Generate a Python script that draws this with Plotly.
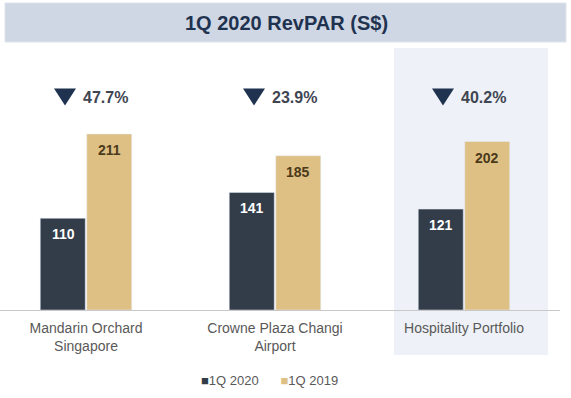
import plotly.graph_objects as go

categories = ["Mandarin Orchard<br>Singapore", "Crowne Plaza Changi<br>Airport", "Hospitality Portfolio"]
revpar_2020 = [110, 141, 121]
revpar_2019 = [211, 185, 202]
changes = ["47.7%", "23.9%", "40.2%"]
series_names = ["1Q 2020", "1Q 2019"]
title_text = "1Q 2020 RevPAR (S$)"

C_DARK = "#333d4a"
C_GOLD = "#dec084"
C_NAVY = "#1f3350"
FONT = "Liberation Sans, Arial, sans-serif"

W, H = 571, 398
ML, MR, MT, MB = 0, 11, 48, 88
PW = W - ML - MR
PH = H - MT - MB


def px_x(px):
    return (px - ML) / PW


def px_y(py):
    return (H - MB - py) / PH


xs = list(range(len(categories)))

fig = go.Figure()
fig.add_trace(go.Bar(x=xs, y=revpar_2020, name=series_names[0], marker_color=C_DARK,
                     showlegend=False, hoverinfo="skip"))
fig.add_trace(go.Bar(x=xs, y=revpar_2019, name=series_names[1], marker_color=C_GOLD,
                     showlegend=False, hoverinfo="skip"))

shapes = []
# title banner
shapes.append(dict(type="rect", xref="paper", yref="paper",
                   x0=px_x(5), x1=px_x(566), y0=px_y(42), y1=px_y(3),
                   fillcolor="#cfd7e4", line=dict(color="#dfe4ec", width=1), layer="below"))
# highlight box for portfolio
shapes.append(dict(type="rect", xref="paper", yref="paper",
                   x0=px_x(394), x1=px_x(548), y0=px_y(355), y1=px_y(48),
                   fillcolor="#eef1f7", line=dict(width=0), layer="below"))

annotations = []
annotations.append(dict(text="<b>" + title_text + "</b>", xref="paper", yref="paper",
                        x=px_x(286), y=px_y(23), xanchor="center", yanchor="middle",
                        showarrow=False, font=dict(family=FONT, size=20, color=C_NAVY)))

row_y = px_y(97)
for i, ch in enumerate(changes):
    shapes.append(dict(type="path", xref="x", yref="paper", xsizemode="pixel", ysizemode="pixel",
                       xanchor=xs[i], yanchor=row_y,
                       path="M -32,8.5 L -10,8.5 L -21,-8.5 Z",
                       fillcolor=C_NAVY, line=dict(width=0)))
    annotations.append(dict(text="<b>" + ch + "</b>", xref="x", yref="paper", x=xs[i], y=row_y,
                            xshift=-5, xanchor="left", yanchor="middle", showarrow=False,
                            font=dict(family=FONT, size=16, color="#3f4652")))

for i in xs:
    annotations.append(dict(text="<b>%d</b>" % revpar_2020[i], x=i, y=revpar_2020[i], xref="x", yref="y",
                            xshift=-23, yshift=-16, showarrow=False, yanchor="middle",
                            font=dict(family=FONT, size=14, color="#ffffff")))
    annotations.append(dict(text="<b>%d</b>" % revpar_2019[i], x=i, y=revpar_2019[i], xref="x", yref="y",
                            xshift=23, yshift=-16, showarrow=False, yanchor="middle",
                            font=dict(family=FONT, size=14, color="#4b3a1a")))

legend_text = ("<span style='color:%s'>■</span>%s&nbsp;&nbsp;&nbsp;&nbsp;&nbsp;&nbsp;"
               "<span style='color:%s'>■</span>%s") % (C_DARK, series_names[0], C_GOLD, series_names[1])
annotations.append(dict(text=legend_text, xref="paper", yref="paper", x=px_x(269), y=px_y(380),
                        xanchor="center", yanchor="middle", showarrow=False,
                        font=dict(family=FONT, size=13, color="#595959")))

fig.update_layout(
    width=W, height=H,
    margin=dict(l=ML, r=MR, t=MT, b=MB, pad=0),
    paper_bgcolor="white", plot_bgcolor="rgba(0,0,0,0)",
    barmode="group", bargap=0.508, bargroupgap=0.032,
    showlegend=False,
    shapes=shapes, annotations=annotations,
    xaxis=dict(range=[-86 / 189, (PW - 86) / 189], tickvals=xs, ticktext=categories,
               showline=True, linecolor="#c8c8c8", linewidth=1, showgrid=False, zeroline=False,
               ticks="", ticklabelstandoff=5,
               tickfont=dict(family=FONT, size=14, color="#595959")),
    yaxis=dict(range=[0, PH / 0.834], visible=False, showgrid=False, zeroline=False),
)

fig.write_html("out.html", config={"displayModeBar": False},
               post_script="document.body.style.margin='0';")
